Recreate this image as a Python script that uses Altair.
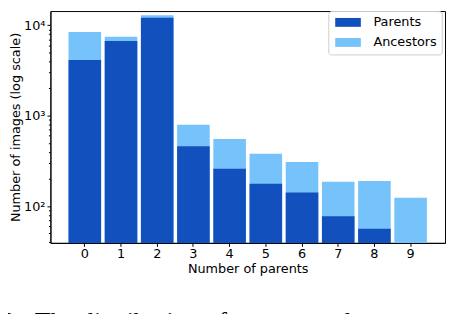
import altair as alt
import pandas as pd

# ---- data ----
n_parents = ["0", "1", "2", "3", "4", "5", "6", "7", "8", "9"]
parents = [4110, 6680, 12100, 459, 258, 177, 141, 77, 56, None]
ancestors = [8390, 7450, 12850, 791, 552, 378, 307, 186, 189, 124]
series = ["Parents", "Ancestors"]
colors = ["#1250BE", "#75C3FA"]
y_domain = [39.2, 14330]
major_ticks = [100, 1000, 10000]
major_labels = ["10²", "10³", "10⁴"]
minor_ticks = [40, 50, 60, 70, 80, 90,
               200, 300, 400, 500, 600, 700, 800, 900,
               2000, 3000, 4000, 5000, 6000, 7000, 8000, 9000]
caption = "2:\u00a0\u00a0The distribution of parents and ancestors"

rows = []
for n, a in zip(n_parents, ancestors):
    rows.append({"n": n, "series": "Ancestors", "count": a})
for n, p in zip(n_parents, parents):
    if p is not None:
        rows.append({"n": n, "series": "Parents", "count": p})
df = pd.DataFrame(rows)

label_expr = " : ".join(
    f"datum.value == {v} ? '{l}'" for v, l in zip(major_ticks, major_labels)
) + " : ''"
major_test = "indexof([" + ",".join(str(v) for v in major_ticks) + "], datum.value) >= 0"

FONT = "DejaVu Sans"

chart = alt.Chart(df).mark_bar().encode(
    x=alt.X(
        "n:O",
        sort=n_parents,
        scale=alt.Scale(paddingInner=0.1, paddingOuter=0.5),
        axis=alt.Axis(
            title="Number of parents",
            labelAngle=0,
            tickSize=3.5,
            labelPadding=1.5,
            titlePadding=2,
        ),
    ),
    y=alt.Y(
        "count:Q",
        scale=alt.Scale(type="log", domain=y_domain, nice=False, clamp=True),
        axis=alt.Axis(
            title="Number of images (log scale)",
            values=sorted(major_ticks + minor_ticks),
            labelExpr=label_expr,
            labelOverlap=False,
            labelFlush=False,
            tickSize={"condition": {"test": major_test, "value": 3.5}, "value": 2},
            labelPadding=2,
            titlePadding=1,
        ),
    ),
    y2=alt.datum(y_domain[0]),
    color=alt.Color(
        "series:N",
        scale=alt.Scale(domain=series, range=colors),
        legend=alt.Legend(
            title=None,
            orient="none",
            legendX=281.7,
            legendY=0,
            direction="vertical",
            fillColor="white",
            strokeColor="#cccccc",
            cornerRadius=3,
            padding=5,
            symbolType="M-2.889,-1L2.889,-1L2.889,1L-2.889,1Z",
            symbolSize=81,
            symbolOffset=8.5,
            symbolStrokeWidth=0,
            symbolOpacity=1,
            labelFont=FONT,
            labelFontSize=13,
            labelColor="black",
            labelOffset=19.2,
            rowPadding=6.3,
        ),
    ),
).properties(
    width=400,
    height=235,
    autosize=alt.AutoSizeParams(type="none"),
    padding={"left": 43, "top": 1, "right": 1, "bottom": 70},
    title=alt.TitleParams(
        text=caption,
        orient="bottom",
        anchor="start",
        frame="group",
        font="Liberation Serif",
        fontSize=26,
        fontWeight="normal",
        color="black",
        baseline="top",
        dx=-49,
        offset=34,
    ),
).configure_view(
    stroke="black", strokeWidth=1
).configure_axis(
    grid=False,
    domainColor="black",
    domainWidth=1,
    tickColor="black",
    tickWidth=1,
    labelColor="black",
    titleColor="black",
    labelFont=FONT,
    titleFont=FONT,
    labelFontSize=13,
    titleFontSize=13,
    titleFontWeight="normal",
)

chart.save("out.html", embed_options={"renderer": "svg", "actions": False})
